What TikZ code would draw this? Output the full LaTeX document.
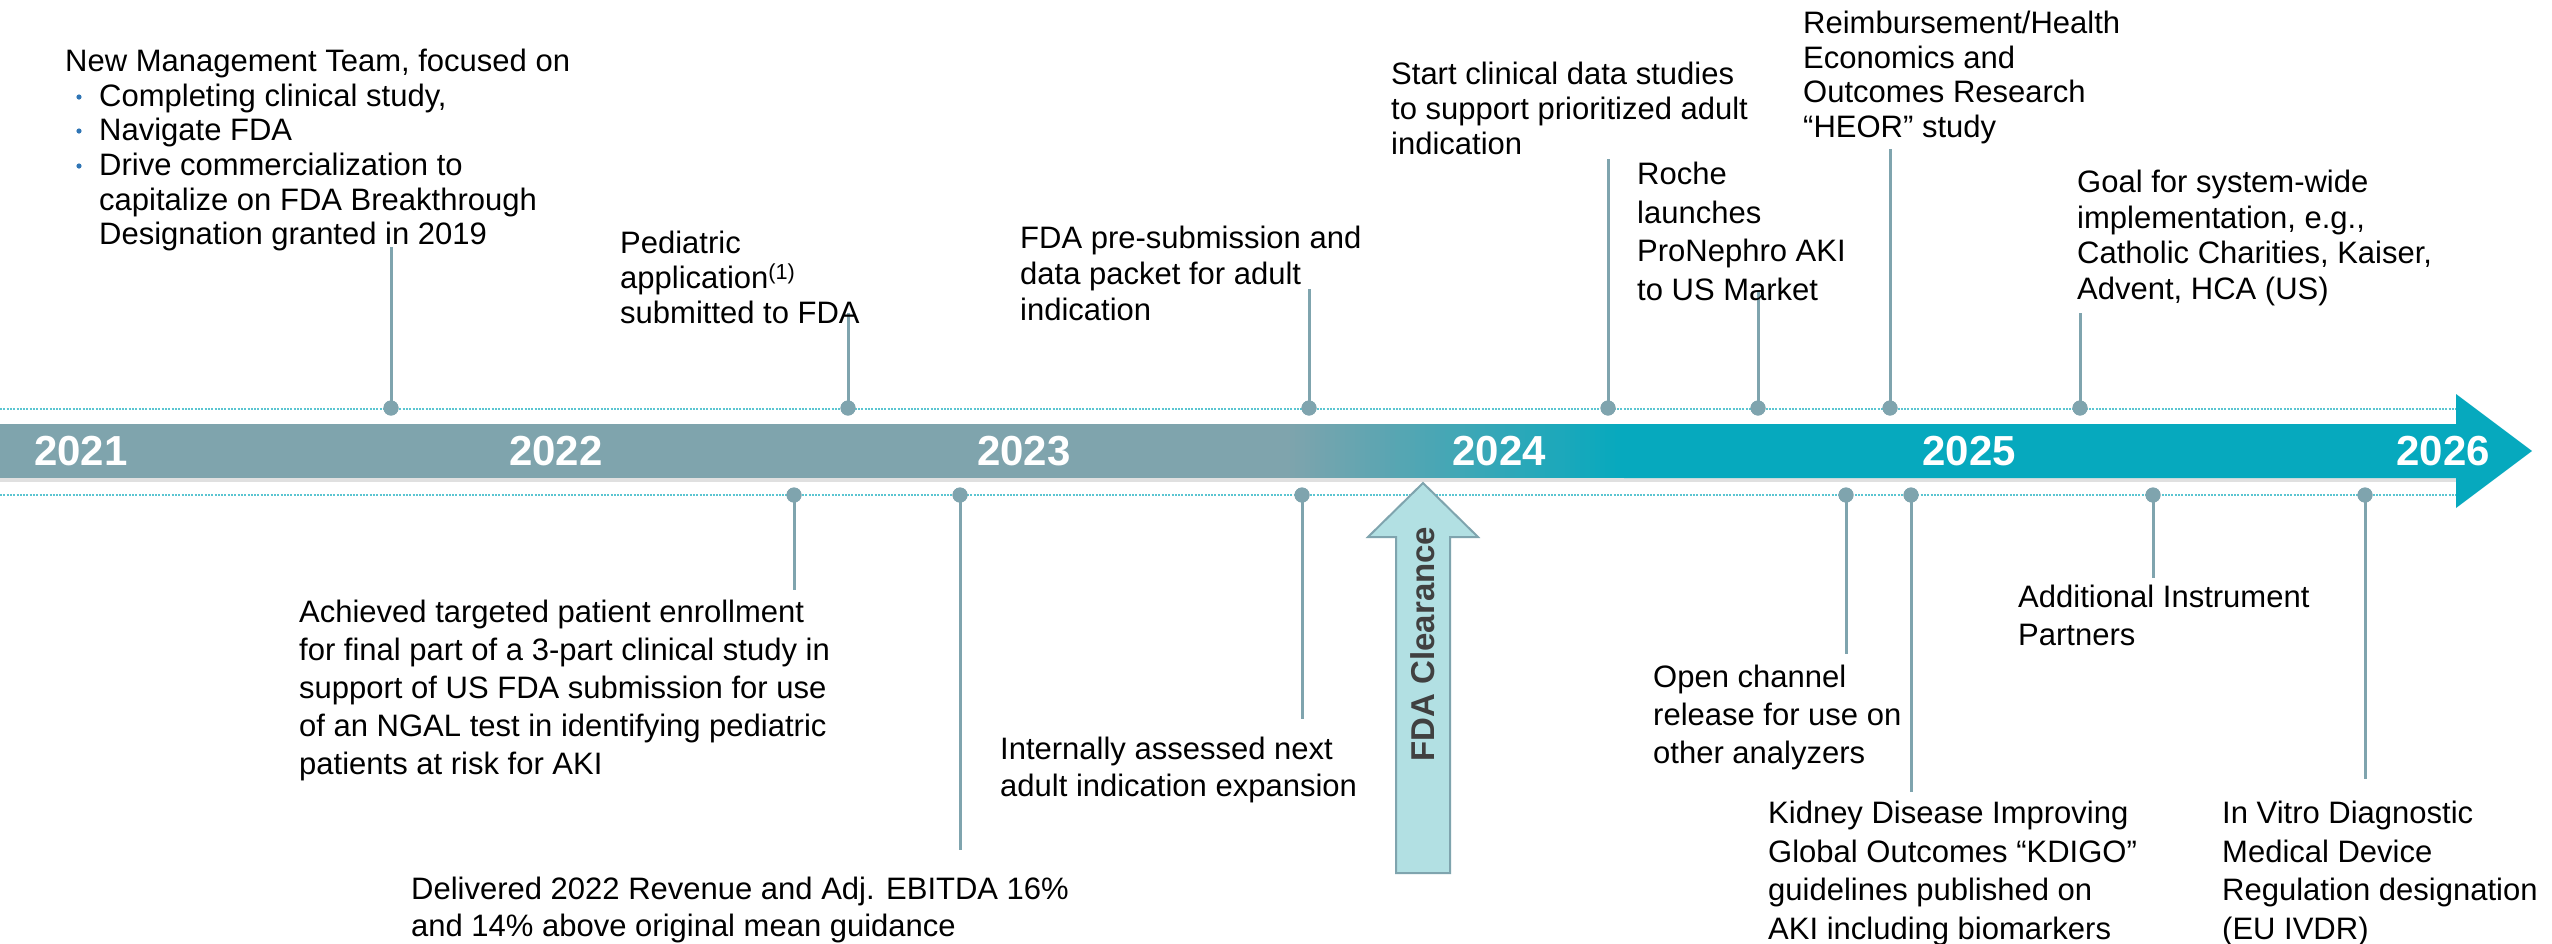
\documentclass[tikz,border=0pt]{standalone}
\usepackage{fontspec}
\setmainfont{Liberation Sans}
\definecolor{barL}{HTML}{7FA4AD}
\definecolor{barR}{HTML}{06A9BE}
\definecolor{stemc}{HTML}{7FA4AE}
\definecolor{dotline}{HTML}{5BC5D1}
\definecolor{fdafill}{HTML}{B2E0E3}
\definecolor{fdatext}{HTML}{404040}
\definecolor{bulletc}{HTML}{2F75B5}
\begin{document}
\begin{tikzpicture}[x=1pt,y=-1pt,
  txt/.style={anchor=north west, inner sep=0pt, align=left, text=black},
  yr/.style={anchor=base, inner sep=0pt, text=white, font=\fontsize{42}{42}\selectfont\bfseries},
  tldot/.style={circle, fill=stemc, inner sep=0pt, minimum size=15pt},
  stem/.style={draw=stemc, line width=3pt},
  guide/.style={draw=dotline, line width=2.3pt, dash pattern=on 2pt off 1.3pt}]
\useasboundingbox (0,0) rectangle (2552,943);
\fill[white] (0,0) rectangle (2552,943);
% guide lines
\coordinate (gu1) at (0,409); \coordinate (gu2) at (2456,409);
\coordinate (gl1) at (0,495); \coordinate (gl2) at (2456,495);
\draw[guide] (gu1) -- (gu2);
\draw[guide] (gl1) -- (gl2);
% bar
\fill[black!12] (0,478) rectangle (2456,482);
\fill[barL] (0,424) rectangle (1287,478);
\foreach \i in {0,...,67}{
  \pgfmathsetmacro{\p}{\i/67*100}
  \pgfmathsetmacro{\xa}{1285+5*\i}
  \fill[barR!\p!barL] (\xa,424) rectangle (\xa+5.6,478);
}
\fill[barR] (1624,424) -- (2456,424) -- (2456,394) -- (2532,451) -- (2456,508) -- (2456,478) -- (1624,478) -- cycle;
% years
\node[yr] (y21) at (81,465) {2021};
\node[yr] (y22) at (556,465) {2022};
\node[yr] (y23) at (1024,465) {2023};
\node[yr] (y24) at (1499,465) {2024};
\node[yr] (y25) at (1969,465) {2025};
\node[yr] (y26) at (2443,465) {2026};
% upper stems and dots
\foreach \n/\x/\t in {u1/391/247,u2/848/313,u3/1309/289,u4/1608/159,u5/1758/292,u6/1890/149,u7/2080/313}{
  \coordinate (\n s) at (\x,\t);
  \node[tldot] (\n) at (\x,408) {};
  \draw[stem] (\n.center) -- (\n s);
  \node[tldot] at (\n.center) {};
}
% lower stems and dots
\foreach \n/\x/\t in {l1/794/590,l2/960/850,l3/1302/719,l4/1846/654,l5/1911/792,l6/2153/578,l7/2365/779}{
  \coordinate (\n s) at (\x,\t);
  \node[tldot] (\n) at (\x,495) {};
  \draw[stem] (\n.center) -- (\n s);
  \node[tldot] at (\n.center) {};
}
% FDA clearance arrow
\draw[fill=fdafill, draw=stemc, line width=2pt] (1396,873) -- (1396,537) -- (1368,537) -- (1423,483) -- (1478,537) -- (1450,537) -- (1450,873) -- cycle;
\node[rotate=90, inner sep=0pt, text=fdatext, font=\fontsize{33}{33}\selectfont\bfseries] (fda) at (1423,644) {FDA Clearance};
% bullets
\fill[bulletc] (79,97) circle (2.6);
\fill[bulletc] (79,131) circle (2.6);
\fill[bulletc] (79,166) circle (2.6);
% upper texts
\node[txt, font=\fontsize{31}{34.6}\selectfont] (tA) at (65,49) {New Management Team,\ focused on\\
\hspace*{34pt}Completing clinical study,\\
\hspace*{34pt}Navigate FDA\\
\hspace*{34pt}Drive commercialization to\\
\hspace*{34pt}capitalize on FDA Breakthrough\\
\hspace*{34pt}Designation granted in 2019};
\node[txt, font=\fontsize{31}{35}\selectfont] (tB) at (620,231) {Pediatric\\application\textsuperscript{(1)}\\submitted to FDA};
\node[txt, font=\fontsize{31}{36}\selectfont] (tC) at (1020,226) {FDA pre-submission and\\data packet for adult\\indication};
\node[txt, font=\fontsize{31}{35}\selectfont] (tD) at (1391,62) {Start clinical data studies\\to support prioritized adult\\indication};
\node[txt, font=\fontsize{31}{38.5}\selectfont] (tE) at (1637,162) {Roche\\launches\\ProNephro AKI\\to US Market};
\node[txt, font=\fontsize{31}{34.5}\selectfont] (tF) at (1803,11) {Reimbursement/Health\\Economics and\\Outcomes Research\\“HEOR” study};
\node[txt, font=\fontsize{31}{35.5}\selectfont] (tG) at (2077,170) {Goal for system-wide\\implementation, e.g.,\\Catholic Charities, Kaiser,\\Advent, HCA (US)};
% lower texts
\node[txt, font=\fontsize{31}{38}\selectfont] (tH) at (299,600) {Achieved targeted patient enrollment\\for final part of a 3-part clinical study in\\support of US FDA submission for use\\of an NGAL test in identifying pediatric\\patients at risk for AKI};
\node[txt, font=\fontsize{31}{37}\selectfont] (tI) at (411,877) {Delivered 2022 Revenue and\ Adj. EBITDA 16\%\\and\ 14\% above original mean guidance};
\node[txt, font=\fontsize{31}{37}\selectfont] (tJ) at (1000,737) {Internally assessed next\\adult indication expansion};
\node[txt, font=\fontsize{31}{38}\selectfont] (tK) at (1653,665) {Open channel\\release for use on\\other analyzers};
\node[txt, font=\fontsize{31}{38.5}\selectfont] (tL) at (1768,801) {Kidney Disease Improving\\Global Outcomes\ “KDIGO”\\guidelines published on\\AKI including biomarkers};
\node[txt, font=\fontsize{31}{37.5}\selectfont] (tM) at (2018,585) {Additional Instrument\\Partners};
\node[txt, font=\fontsize{31}{38.5}\selectfont] (tN) at (2222,801) {In Vitro Diagnostic\\Medical Device\\Regulation designation\\(EU IVDR)};
\end{tikzpicture}
\end{document}
